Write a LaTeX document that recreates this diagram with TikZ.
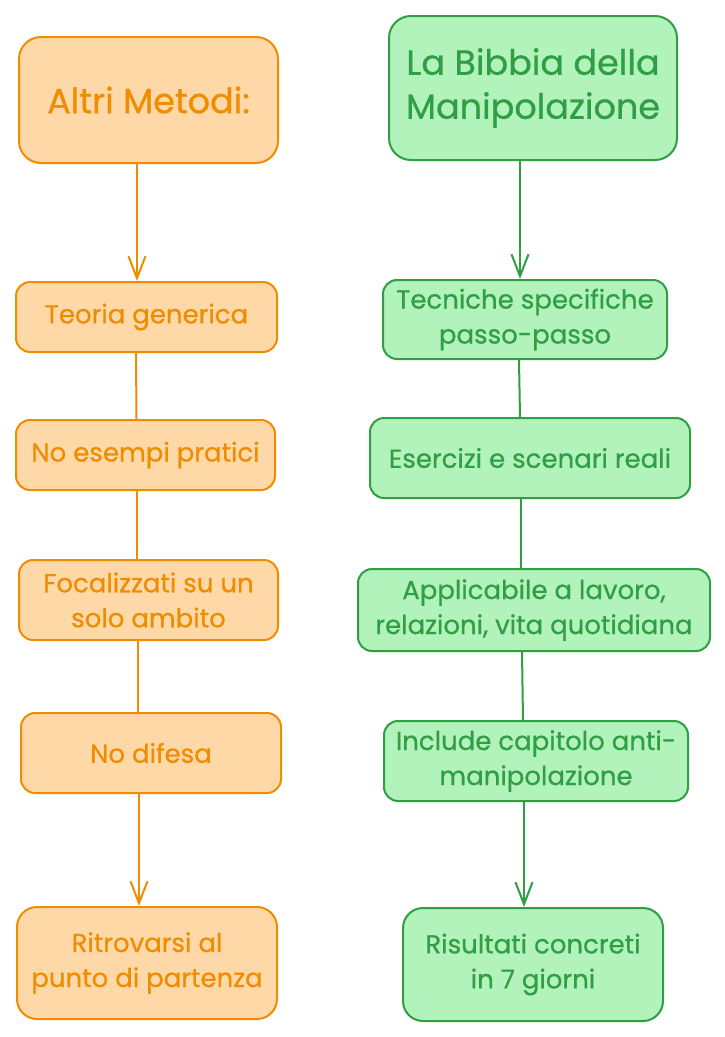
\documentclass[tikz,border=0pt]{standalone}
\usepackage{fontspec}
\setmainfont{Poppins}[FakeBold=0.6]
\usetikzlibrary{arrows.meta}
\definecolor{ostroke}{HTML}{F08C00}
\definecolor{ofill}{HTML}{FFD8A8}
\definecolor{gstroke}{HTML}{2F9E44}
\definecolor{gfill}{HTML}{B2F2BB}
\begin{document}
\begin{tikzpicture}[x=1pt,y=-1pt,
  box/.style={line width=2pt, rounded corners=14pt, align=center, inner sep=0pt,
    font=\fontsize{26}{35}\selectfont},
  obox/.style={box, draw=ostroke, fill=ofill, text=ostroke},
  gbox/.style={box, draw=gstroke, fill=gfill, text=gstroke},
  head/.style={rounded corners=22pt, font=\fontsize{35}{44}\selectfont},
  big/.style={rounded corners=20pt},
  oline/.style={draw=ostroke, line width=2pt},
  gline/.style={draw=gstroke, line width=2pt},
  tip/.style={-{Straight Barb[length=22pt,width=17pt,line width=2pt]}}
]
\useasboundingbox (0,0) rectangle (725,1037);
\fill[white] (0,0) rectangle (725,1037);
% left column
\node[obox, head, minimum width=259pt, minimum height=126pt] (a1) at (148.5,100) {Altri Metodi:};
\node[obox, minimum width=261pt, minimum height=70pt] (a2) at (146.5,317) {Teoria generica};
\node[obox, minimum width=259pt, minimum height=70pt] (a3) at (145.5,455) {No esempi pratici};
\node[obox, minimum width=259pt, minimum height=80pt] (a4) at (148.5,600) {Focalizzati su un\\solo ambito};
\node[obox, minimum width=260pt, minimum height=80pt] (a5) at (151,753) {No difesa};
\node[obox, big, minimum width=260pt, minimum height=112pt] (a6) at (147,963) {Ritrovarsi al\\punto di partenza};
% right column
\node[gbox, head, minimum width=288pt, minimum height=144pt] (b1) at (533,88) {La Bibbia della\\Manipolazione};
\node[gbox, minimum width=284pt, minimum height=79pt] (b2) at (525,319.5) {Tecniche specifiche\\passo-passo};
\node[gbox, minimum width=320pt, minimum height=80pt] (b3) at (530,458) {Esercizi e scenari reali};
\node[gbox, minimum width=352pt, minimum height=82pt] (b4) at (534,610) {Applicabile a lavoro,\\relazioni, vita quotidiana};
\node[gbox, minimum width=304pt, minimum height=80pt] (b5) at (536,761) {Include capitolo anti-\\manipolazione};
\node[gbox, big, minimum width=260pt, minimum height=113pt] (b6) at (533,964.5) {Risultati concreti\\in 7 giorni};
% connectors left
\draw[oline, tip] (a1.south -| 137,0) -- (a2.north -| 137,0);
\draw[oline] (a2.south -| 136,0) -- (a3.north -| 136.5,0);
\draw[oline] (a3.south -| 137,0) -- (a4.north -| 137,0);
\draw[oline] (a4.south -| 138,0) -- (a5.north -| 138,0);
\draw[oline, tip] (a5.south -| 139,0) -- (a6.north -| 139,0);
% connectors right
\draw[gline, tip] (b1.south -| 520,0) -- (b2.north -| 520,0);
\draw[gline] (b2.south -| 519,0) -- (b3.north -| 520,0);
\draw[gline] (b3.south -| 521,0) -- (b4.north -| 521,0);
\draw[gline] (b4.south -| 522,0) -- (b5.north -| 523,0);
\draw[gline, tip] (b5.south -| 524,0) -- (b6.north -| 524,0);
\end{tikzpicture}
\end{document}
